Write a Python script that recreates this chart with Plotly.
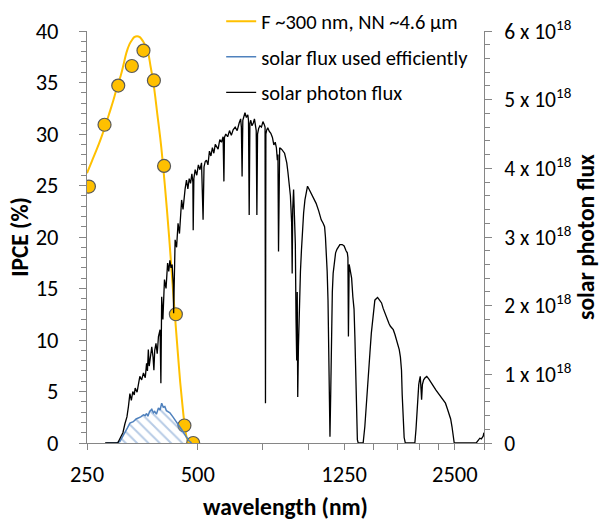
import plotly.graph_objects as go

# ---- data ----
# IPCE measured points (wavelength nm, IPCE %)
ipce_wl = [253, 279, 304, 331, 356, 380, 405, 436, 460, 486]
ipce_val = [24.9, 30.9, 34.7, 36.6, 38.1, 35.2, 26.9, 12.5, 1.7, 0.0]

# fitted IPCE curve (F ~300 nm, NN ~4.6 um)
fit_wl = [250, 258, 265, 273, 281, 288, 295, 302, 309, 315, 320, 326, 331, 336,
          342, 348, 355, 361, 367, 372, 378, 383, 388, 393, 398, 402, 407, 412,
          418, 424, 430, 436, 442, 448, 454, 460, 466, 472]
fit_val = [26.2, 27.4, 28.4, 29.6, 30.9, 32.1, 33.3, 34.6, 35.7, 36.9, 37.9, 38.7, 39.1, 39.4,
           39.5, 39.4, 39.0, 38.5, 37.8, 36.6, 35.2, 33.7, 32.0, 30.4, 28.7, 27.1, 25.0, 22.8,
           20.0, 17.0, 14.0, 11.2, 8.5, 5.9, 3.8, 1.9, 0.6, 0.0]

# solar flux used efficiently (wavelength nm, flux in 1e18)
eff_wl = [282, 300, 307, 315, 322, 327, 334, 340, 344, 350, 356, 360, 363, 366, 370, 375,
          379, 382, 386, 391, 395, 399, 403, 407, 411, 415, 420, 428, 435, 441, 447, 453,
          459, 465, 472, 481]
eff_val = [0.0, 0.0, 0.02, 0.12, 0.22, 0.29, 0.31, 0.35, 0.36, 0.38, 0.41, 0.40, 0.43, 0.39, 0.46,
           0.49, 0.44, 0.46, 0.42, 0.51, 0.48, 0.58, 0.52, 0.53, 0.47, 0.46, 0.44, 0.38, 0.33, 0.29,
           0.24, 0.19, 0.14, 0.09, 0.04, 0.0]

# solar photon flux (wavelength nm, flux in 1e18)
sun_wl = [280, 295, 303, 309, 313, 317, 321, 324, 327, 330, 333, 336, 338, 342, 345, 348,
          352, 356, 360, 363, 365, 367, 369, 371, 373, 375, 378, 380, 382, 385, 388, 391,
          395, 397, 399, 402, 406, 410, 414, 417, 420, 423, 426, 429, 430, 432, 434, 438,
          442, 446, 449, 452, 456, 459, 462, 466, 470, 474, 478, 482, 485, 486, 488, 492,
          497, 502, 507, 512, 517, 520, 524, 528, 533, 538, 543, 548, 553, 558, 562, 568,
          574, 580, 586, 589, 591, 596, 603, 610, 617, 624, 632, 640, 648, 654, 657, 660,
          663, 667, 672, 678, 684, 687, 690, 693, 697, 702, 708, 713, 718, 721, 724, 727,
          732, 738, 745, 752, 758, 762, 764, 766, 770, 775, 782, 790, 798, 805, 812, 818,
          823, 826, 829, 832, 835, 845, 855, 861, 867, 873, 879, 885, 893, 900, 903, 906,
          911, 916, 921, 925, 929, 932, 935, 939, 945, 951, 957, 963, 970, 978, 986, 994,
          1003, 1016, 1030, 1049, 1066, 1083, 1096, 1106, 1112, 1118, 1124, 1130, 1137, 1144,
          1150, 1155, 1161, 1167, 1175, 1185, 1195, 1205, 1217, 1235, 1250, 1265, 1275, 1280,
          1284, 1290, 1300, 1310, 1320, 1330, 1337, 1344, 1350, 1358, 1365, 1408, 1423, 1433,
          1442, 1456, 1469, 1482, 1496, 1505, 1515, 1528, 1541, 1560, 1580, 1596, 1613, 1628,
          1640, 1655, 1670, 1685, 1700, 1718, 1736, 1750, 1765, 1778, 1790, 1798, 1806, 1820,
          1833, 1946, 1960, 1973, 1985, 1994, 2004, 2013, 2022, 2030, 2040, 2056, 2075, 2097,
          2125, 2155, 2190, 2221, 2255, 2290, 2325, 2357, 2385, 2413, 2435, 2455, 2475, 2490,
          2857, 2890, 2923, 2950, 2985, 2998]
sun_val = [0.0, 0.0, 0.0, 0.09, 0.15, 0.28, 0.38, 0.53, 0.72, 0.62, 0.75, 0.70, 0.80, 0.74, 0.86, 0.97,
           0.92, 1.02, 0.95, 1.16, 1.05, 1.36, 1.12, 1.21, 1.30, 1.40, 1.25, 1.06, 1.35, 1.45, 1.30, 1.55,
           1.65, 0.87, 2.13, 1.80, 2.38, 2.25, 2.62, 2.50, 2.66, 2.55, 2.60, 2.30, 1.89, 2.55, 2.96, 2.85,
           3.20, 3.05, 3.35, 3.54, 3.40, 3.60, 3.70, 3.83, 3.70, 3.85, 3.78, 3.92, 3.80, 3.10, 3.85, 3.98,
           3.90, 4.05, 3.98, 4.08, 3.25, 4.02, 4.10, 4.12, 4.05, 4.25, 4.18, 4.30, 4.22, 4.35, 4.32, 4.28,
           4.42, 4.38, 4.46, 3.81, 4.45, 4.50, 4.46, 4.55, 4.48, 4.56, 4.60, 4.55, 4.66, 4.72, 4.60, 3.88,
           4.70, 4.76, 4.81, 4.74, 4.78, 4.70, 3.32, 4.65, 4.70, 4.62, 4.66, 4.72, 4.64, 4.55, 3.32, 4.50,
           4.58, 4.62, 4.60, 4.68, 4.64, 4.60, 0.58, 4.50, 4.56, 4.59, 4.54, 4.51, 4.45, 4.34, 4.38, 4.30,
           4.12, 4.20, 2.79, 4.22, 4.30, 4.28, 4.24, 4.22, 4.15, 4.08, 3.95, 3.83, 3.60, 3.20, 2.47, 3.40,
           3.69, 3.30, 2.90, 1.80, 1.20, 2.20, 0.67, 1.40, 2.08, 2.50, 2.81, 3.10, 3.35, 3.54, 3.68, 3.74,
           3.70, 3.64, 3.58, 3.49, 3.38, 3.25, 3.20, 3.15, 3.00, 2.81, 2.50, 2.08, 1.20, 0.09,
           0.80, 1.60, 2.20, 2.47, 2.65, 2.77, 2.82, 2.86, 2.89, 2.89, 2.87, 2.80, 2.77, 2.70,
           1.55, 2.60, 2.52, 2.40, 2.13, 1.95, 1.55, 1.00, 0.34, 0.05, 0.0, 0.0, 0.24, 0.45,
           0.72, 1.05, 1.31, 1.60, 1.79, 1.95, 2.08, 2.10, 2.12, 2.08, 2.04, 1.96, 1.89, 1.84,
           1.79, 1.74, 1.70, 1.68, 1.65, 1.58, 1.50, 1.44, 1.36, 1.25, 1.06, 0.70, 0.34, 0.08,
           0.0, 0.0, 0.20, 0.53, 0.75, 0.85, 0.92, 0.97, 0.80, 0.63, 0.85, 0.92, 0.95, 0.97,
           0.93, 0.87, 0.82, 0.77, 0.72, 0.67, 0.62, 0.58, 0.50, 0.43, 0.35, 0.24, 0.10, 0.0,
           0.0, 0.03, 0.07, 0.06, 0.10, 0.15]

x_tick_vals = [250, 500, 750, 1000, 1250, 1500, 1750, 2000, 2250, 2500, 3000]
x_tick_text = ["250", "500", "", "", "1250", "", "", "", "", "2500", ""]
y2_tick_vals = [0, 1, 2, 3, 4, 5, 6]
y2_tick_text = ["0"] + [f"{v} x 10<sup>18</sup>" for v in y2_tick_vals[1:]]

SCALE = 1e18
FONT = "Carlito, Lato, sans-serif"
AXIS_COLOR = "#868686"
TITLE_FONT = dict(family=FONT, size=23.5, color="#000000")
TICK_FONT = dict(family=FONT, size=22.5, color="#000000")

fig = go.Figure()

# blue hatched "used efficiently" area
fig.add_trace(go.Scatter(
    x=eff_wl, y=[v * SCALE for v in eff_val], yaxis="y2",
    mode="lines", line=dict(color="#4f81bd", width=1.5),
    fill="tozeroy", fillcolor="rgba(0,0,0,0)",
    fillpattern=dict(shape="\\", fgcolor="#6f98cc", bgcolor="rgba(255,255,255,0)",
                     size=8, solidity=0.25, fillmode="overlay"),
    showlegend=False, hoverinfo="skip"))

# solar photon flux
fig.add_trace(go.Scatter(
    x=sun_wl, y=[v * SCALE for v in sun_val], yaxis="y2",
    mode="lines", line=dict(color="black", width=1.3),
    name="solar photon flux", showlegend=False))

# IPCE fit curve
fig.add_trace(go.Scatter(
    x=fit_wl, y=fit_val, mode="lines",
    line=dict(color="#ffc000", width=2, shape="spline"),
    showlegend=False))

# IPCE points
fig.add_trace(go.Scatter(
    x=ipce_wl, y=ipce_val, mode="markers",
    marker=dict(size=13, color="#ffc000", line=dict(color="#595959", width=1.2)),
    showlegend=False))

# legend entries
legend_items = [("F ~300 nm, NN ~4.6 µm", "#ffc000", 2),
                ("solar flux used efficiently", "#4f81bd", 1.5),
                ("solar photon flux", "black", 1.2)]
for i, (nm, col, w) in enumerate(legend_items):
    fig.add_trace(go.Scatter(x=[None], y=[None], mode="lines", name=nm,
                             line=dict(color=col, width=w), legendgroup=f"g{i}"))

fig.update_layout(
    width=602, height=521,
    margin=dict(l=87, r=118, t=31, b=78, autoexpand=False),
    paper_bgcolor="white", plot_bgcolor="white",
    font=dict(family=FONT, size=20, color="#000000"),
    showlegend=True,
    legend=dict(x=0.338, y=1.072, xanchor="left", yanchor="top",
                bgcolor="rgba(0,0,0,0)", borderwidth=0,
                font=dict(family=FONT, size=20.5, color="#000000"),
                traceorder="grouped", tracegroupgap=6),
    xaxis=dict(type="log", range=[2.39794, 3.47712],
               tickvals=x_tick_vals, ticktext=x_tick_text, tickfont=TICK_FONT,
               ticks="outside", ticklen=6, tickcolor=AXIS_COLOR,
               ticklabelstandoff=5,
               showline=True, linecolor=AXIS_COLOR, linewidth=1,
               showgrid=False, zeroline=False,
               title=dict(text="<b>wavelength (nm)</b>", font=TITLE_FONT, standoff=17)),
    yaxis=dict(range=[0, 40], dtick=5, tick0=0, tickfont=TICK_FONT,
               ticks="outside", ticklen=7, tickcolor=AXIS_COLOR,
               ticklabelstandoff=16,
               minor=dict(dtick=1, ticks="outside", ticklen=5, tickcolor=AXIS_COLOR),
               showline=True, linecolor=AXIS_COLOR, linewidth=1,
               showgrid=False, zeroline=False,
               title=dict(text="<b>IPCE (%)</b>", font=TITLE_FONT, standoff=0)),
    yaxis2=dict(overlaying="y", side="right", range=[0, 6 * SCALE],
                tickvals=[v * SCALE for v in y2_tick_vals], ticktext=y2_tick_text,
                tickfont=dict(family=FONT, size=21.5, color="#000000"),
                ticks="outside", ticklen=7, tickcolor=AXIS_COLOR,
                ticklabelstandoff=8,
                minor=dict(dtick=0.2 * SCALE, tick0=0, ticks="outside", ticklen=5,
                           tickcolor=AXIS_COLOR),
                showline=True, linecolor=AXIS_COLOR, linewidth=1,
                showgrid=False, zeroline=False,
                title=dict(text="<b>solar photon flux</b>", font=TITLE_FONT, standoff=6)),
)

fig.write_html("out.html")
